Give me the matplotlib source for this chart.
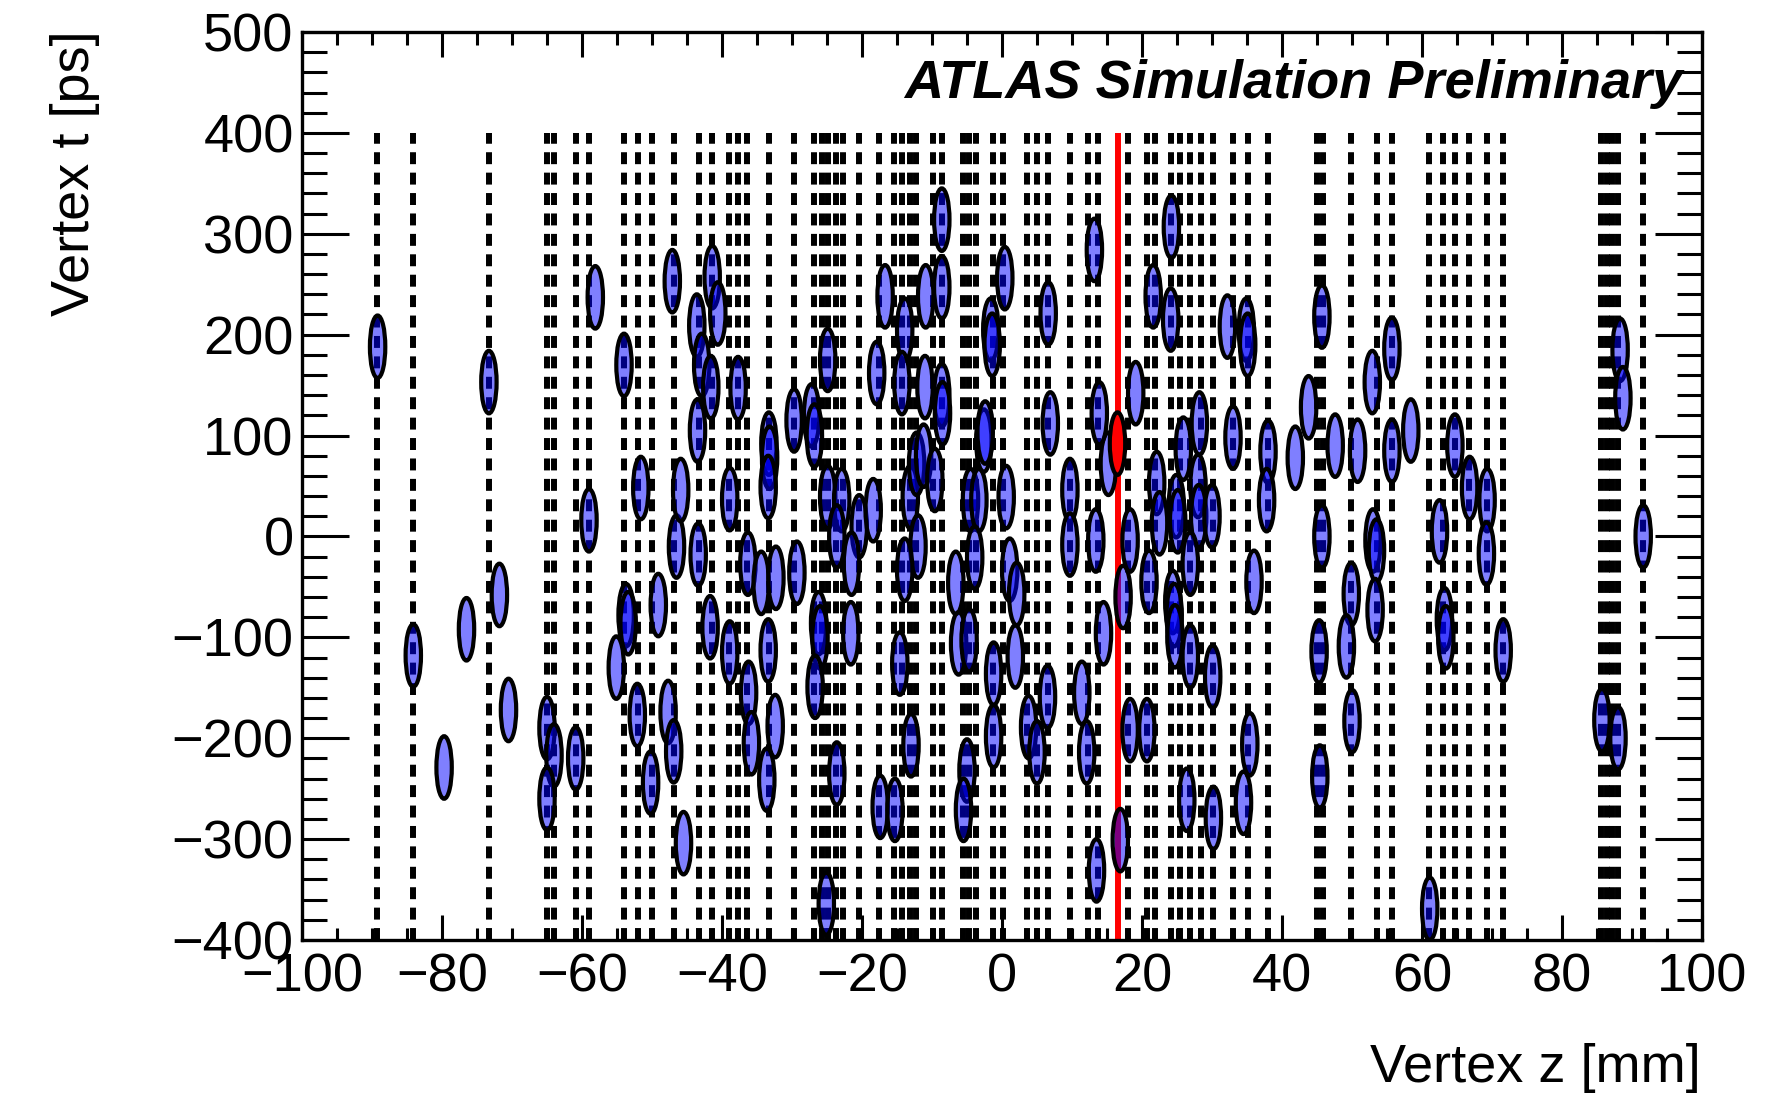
import matplotlib
matplotlib.use("Agg")
import matplotlib.pyplot as plt
from matplotlib.patches import Ellipse
from matplotlib.ticker import MultipleLocator

plt.rcParams['font.family'] = ['Liberation Sans', 'DejaVu Sans']
plt.rcParams['lines.scale_dashes'] = False

# truth vertex positions (mm)
truth_z = [-89.24, -84.14, -73.29, -64.93, -63.97, -60.86, -58.95, -54.0, -51.95, -49.95,
           -46.86, -43.29, -41.38, -38.95, -37.76, -36.48, -33.29, -29.67, -26.9, -25.71,
           -24.81, -23.71, -22.67, -20.38, -17.57, -15.43, -14.33, -13.14, -12.29, -9.81,
           -8.62, -5.64, -4.71, -3.71, -1.24, 0.19, 3.52, 4.95, 6.62, 9.71,
           12.24, 13.76, 18.05, 20.67, 21.86, 24.1, 25.43, 26.86, 28.43, 30.19,
           32.95, 35.1, 38.05, 45.0, 45.8, 49.86, 53.52, 55.67, 61.05, 63.05,
           64.71, 66.71, 69.33, 71.62, 85.57, 86.43, 87.14, 87.93, 91.62]
hs_z = 16.52

# reconstructed vertices (z in mm, t in ps)
reco_z = [-89.2, -84.1, -79.7, -76.5, -73.3, -71.8, -70.5, -65.0, -64.0, -65.0,
          -60.9, -59.0, -58.1, -55.1, -54.0, -53.7, -53.4, -52.1, -51.6, -50.2,
          -49.1, -47.7, -46.9, -47.1, -46.5, -45.9, -45.5, -43.4, -43.5, -43.6,
          -42.9, -41.6, -41.4, -40.6, -41.7, -38.9, -38.9, -37.7,
          -36.3, -34.4, -32.3, -29.3, -33.3, -33.2, -33.4, -33.4, -36.2, -35.8,
          -32.4, -33.6, -29.7, -27.2, -26.8, -24.9, -24.9, -22.9, -23.6, -20.4,
          -21.5, -18.4, -26.2, -26.0, -26.7, -21.6, -23.6, -25.1, -17.4, -15.3,
          -17.9, -16.7, -13.9, -14.3, -10.9, -11.0, -8.6, -8.6, -8.6, -8.5,
          -13.1, -12.2, -11.2, -9.6, -12.0, -13.9, -14.6, -13.0, -4.5, -3.3,
          -3.9, -6.6, -6.2, -4.7, -5.0, -5.5, -2.6, -2.4, -1.6, -1.4,
          0.4, 0.6, 1.1, 2.1, -1.2, 1.9, -1.2, 3.8, 5.0, 6.5,
          6.6, 6.9, 9.7, 9.7, 13.4, 14.5, 11.4, 12.1, 15.2, 13.2,
          13.9, 17.3, 18.3, 18.3, 20.7, 13.5, 16.9, 19.1, 21.6, 24.2,
          24.1, 32.2, 34.9, 35.1, 28.2, 25.9, 33.0, 38.0, 41.9, 43.8,
          45.7, 47.6, 50.8, 52.9, 55.7, 55.7, 58.4, 64.7, 22.1, 22.5,
          21.0, 24.9, 25.1, 28.0, 28.1, 30.0, 26.9, 24.4, 24.6, 24.7,
          26.9, 30.1, 37.8, 36.0, 35.4, 45.7, 45.3, 45.4, 49.9, 49.2,
          50.0, 53.0, 53.5, 53.3, 62.5, 66.8, 69.3, 69.2, 63.2, 63.4,
          71.6, 26.4, 30.2, 34.5, 61.1, 88.3, 88.7, 91.6, 85.7, 88.0]
reco_t = [188, -118, -229, -92, 153, -58, -172, -190, -217, -260,
          -220, 16, 237, -130, 170, -78, -86, -177, 48, -244,
          -68, -174, -213, 253, -10, 46, -304, -18, 105, 209,
          170, 148, 257, 221, -90, 37, -115, 147,
          -27, -46, -41, -36, 92, 78, 49, -113, -155, -205,
          -188, -241, 115, 120, 100, 175, 39, 36, 0, 10,
          -27, 26, -86, -100, -149, -96, -235, -364, -268, -271,
          162, 238, 205, 152, 238, 148, 314, 247, 140, 122,
          39, 72, 80, 56, -10, -33, -126, -207, 36, 36,
          -21, -46, -106, -103, -232, -271, 95, 103, 205, 190,
          256, 39, -33, -57, -136, -119, -198, -189, -214, -159,
          221, 112, 46, -8, -4, -96, -155, -214, 72, 284,
          122, -60, -4, -192, -192, -331, -301, 142, 238, 307,
          215, 208, 205, 190, 112, 87, 98, 84, 78, 128,
          218, 90, 85, 153, 186, 85, 105, 90, 53, 13,
          -45, 30, 15, 50, 20, 20, -27, -65, -78, -99,
          -119, -139, 36, -45, -206, 0, -114, -238, -57, -109,
          -183, -4, -14, -73, 5, 48, 36, -17, -82, -100,
          -113, -261, -279, -264, -369, 185, 137, 0, -182, -200]

# selected hard-scatter vertex
sel_z = [16.5]
sel_t = [92]

fig = plt.figure(figsize=(17.88, 10.96), dpi=100)
ax = fig.add_axes([302/1788, 1-940/1096, 1400/1788, 908/1096])

ax.vlines(truth_z, -400, 400, colors='black', linewidth=4.3,
          linestyles=[(0, (8.6, 6.1))], zorder=1)
ax.vlines([hs_z], -400, 400, colors='red', linewidth=4.3, zorder=1)

for z, t in zip(reco_z, reco_t):
    ax.add_patch(Ellipse((z, t), 2.2, 62, facecolor=(0, 0, 1, 0.5),
                         edgecolor='black', linewidth=3.0, zorder=2))
for z, t in zip(sel_z, sel_t):
    ax.add_patch(Ellipse((z, t), 2.2, 62, facecolor='red',
                         edgecolor='black', linewidth=3.0, zorder=3))

ax.set_xlim(-100, 100)
ax.set_ylim(-400, 500)
ax.xaxis.set_major_locator(MultipleLocator(20))
ax.xaxis.set_minor_locator(MultipleLocator(5))
ax.yaxis.set_major_locator(MultipleLocator(100))
ax.yaxis.set_minor_locator(MultipleLocator(20))
ax.tick_params(axis='both', which='both', direction='in', top=True, right=True,
               width=2.2, labelsize=39)
ax.tick_params(axis='x', which='major', length=18, pad=9)
ax.tick_params(axis='x', which='minor', length=9)
ax.tick_params(axis='y', which='major', length=34, pad=6)
ax.tick_params(axis='y', which='minor', length=18)
for s in ax.spines.values():
    s.set_linewidth(2.4)

fig.text(1701/1788, 1-1068/1096, 'Vertex z [mm]', ha='right', va='center', fontsize=39)
fig.text(75/1788, 1-30/1096, 'Vertex t [ps]', ha='center', va='top', rotation=90, fontsize=39)
fig.text(1682/1788, 1-84/1096, 'ATLAS Simulation Preliminary', ha='right', va='center',
         fontsize=39, fontweight='bold', fontstyle='italic')

fig.savefig('out.png', dpi=100)
